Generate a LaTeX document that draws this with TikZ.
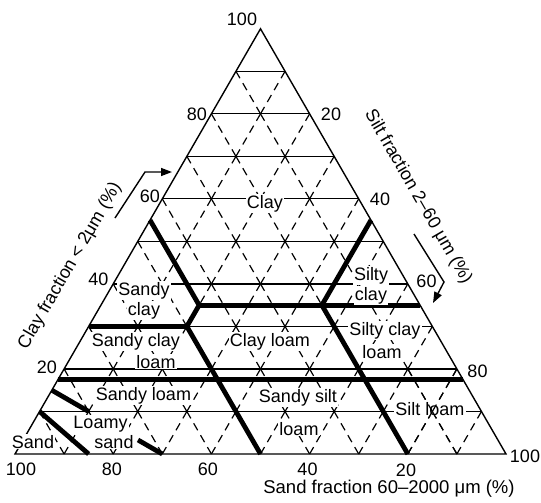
\documentclass[tikz,border=0pt]{standalone}
\usepackage{fontspec}
\setmainfont{Liberation Sans}
\usetikzlibrary{arrows.meta}
\begin{document}
\begin{tikzpicture}[x=1pt,y=-1pt,
  lbl/.style={font=\fontsize{18}{20}\selectfont, inner sep=1pt, anchor=base},
  region/.style={lbl, fill=white},
  title/.style={font=\fontsize{18}{20}\selectfont, inner sep=0pt, anchor=center},
  gridline/.style={line width=1.2pt},
  dashgrid/.style={line width=1.2pt, dash pattern=on 8pt off 5.7pt},
  frame/.style={line width=1.4pt, line join=miter},
  bound/.style={line width=4.8pt, line join=miter},
  axisarrow/.style={line width=1.4pt, -{Triangle[length=11pt,width=8pt]}}]
\useasboundingbox (0,0) rectangle (541,503);

% ternary frame: first axis = silt %, second axis = clay %
\begin{scope}[shift={(15,454)}, x={(4.91pt,0pt)}, y={(2.455pt,4.2522pt)}]
  \coordinate (A) at (0,0);
  \coordinate (B) at (100,0);
  \coordinate (C) at (0,100);
  % constant clay lines
  \foreach \c in {10,20,...,90} \draw[gridline] (0,\c) -- ({100-\c},\c);
  % constant silt lines, one dashed piece per 10 % band
  \foreach \t in {1,...,9} {
    \pgfmathtruncatemacro\nmax{9-\t}
    \foreach \c in {0,...,\nmax}
      \draw[dashgrid] (10*\t,10*\c) -- (10*\t,10*\c+10);
  }
  % constant sand lines, one dashed piece per 10 % band
  \foreach \a in {1,...,9} {
    \pgfmathtruncatemacro\kmax{\a-1}
    \foreach \k in {0,...,\kmax}
      \draw[dashgrid] (10*\k,10*\a-10*\k) -- (10*\k+10,10*\a-10*\k-10);
  }
  \draw[frame] (A) -- (B) -- (C) -- cycle;
  % texture class boundaries
  \draw[bound] (0,55) -- (20,35) -- (20,30) -- (50,0);
  \draw[bound] (0,30) -- (20,30);
  \draw[bound] (20,35) -- (65,35);
  \draw[bound] (45,55) -- (45,35) -- (80,0);
  \draw[bound] (0,17.5) -- (82.5,17.5);
  \draw[bound] (0,15) -- (10,10);
  \draw[bound] (23.4,3.3) -- (30,0);
  \draw[bound] (0,10) -- (15,0);
\end{scope}

% axis numbers
\node[lbl] (c100) at (242,26) {100};
\node[lbl] (c80) at (197,121) {80};
\node[lbl] (c60) at (150,202) {60};
\node[lbl] (c40) at (98.5,285) {40};
\node[lbl] (c20) at (47,373) {20};
\node[lbl] (t20) at (331,121) {20};
\node[lbl] (t40) at (380,205) {40};
\node[lbl] (t60) at (426.5,287) {60};
\node[lbl] (t80) at (477.5,377) {80};
\node[lbl] (t100) at (525,462) {100};
\node[lbl] (s100) at (21,475) {100};
\node[lbl] (s80) at (112,475) {80};
\node[lbl] (s60) at (208,475) {60};
\node[lbl] (s40) at (307.5,475) {40};
\node[lbl] (s20) at (406,476) {20};

% axis titles
\node[lbl, font=\fontsize{18.5}{20}\selectfont] (sandtitle) at (389,493) {Sand fraction 60–2000 μm (\%)};
\node[title, rotate=60] (claytitle) at (70,266) {Clay fraction < 2μm (\%)};
\node[title, rotate=-60] (silttitle) at (418,197) {Silt fraction 2–60 μm (\%)};

% direction arrows
\coordinate (la1) at (115,218);
\coordinate (la2) at (145,172);
\coordinate (la3) at (172,172);
\draw[axisarrow] (la1) -- (la2) -- (la3);
\coordinate (ra1) at (414,234);
\coordinate (ra2) at (444,282);
\coordinate (ra3) at (433,303);
\draw[axisarrow] (ra1) -- (ra2) -- (ra3);

% class names
\node[region] (clay) at (265,208) {Clay};
\node[region] (sc1) at (144,295) {Sandy};
\node[region] (sc2) at (144,315) {clay};
\node[region] (zc1) at (371,280) {Silty};
\node[region] (zc2) at (371,300) {clay};
\node[region] (scl1) at (136,346) {Sandy clay};
\node[region] (scl2) at (156,368) {loam};
\node[region] (cl) at (270,346) {Clay loam};
\node[region] (zcl1) at (385,335) {Silty clay};
\node[region] (zcl2) at (382,358) {loam};
\node[region] (sl) at (143.5,400) {Sandy loam};
\node[region] (ssl1) at (298,402) {Sandy silt};
\node[region] (ssl2) at (299,435) {loam};
\node[region] (zl) at (430,415) {Silt loam};
\node[region] (ls1) at (100.5,428) {Loamy};
\node[region] (ls2) at (114,448) {sand};
\node[region] (sand) at (33,448) {Sand};

% dashed grid crossing the silt loam name
\begin{scope}[shift={(15,454)}, x={(4.91pt,0pt)}, y={(2.455pt,4.2522pt)}]
  \draw[dashgrid] (80,0) -- (80,10);
  \draw[dashgrid] (80,10) -- (80,20);
  \draw[dashgrid] (70,20) -- (80,10);
  \draw[dashgrid] (80,10) -- (90,0);
\end{scope}
\end{tikzpicture}
\end{document}
